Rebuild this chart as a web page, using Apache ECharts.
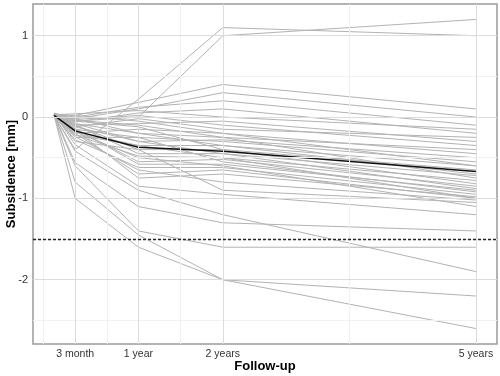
<!DOCTYPE html>
<html>
<head>
<meta charset="utf-8">
<script src="https://cdn.jsdelivr.net/npm/echarts@6/dist/echarts.min.js"></script>
<style>
  html, body { margin: 0; padding: 0; background: #fff; }
  #chart { width: 500px; height: 376px; }
</style>
</head>
<body>
<div id="chart"></div>
<script>
// follow-up time points in months
const months = [0, 3, 12, 24, 60];
const tickMonths = [3, 12, 24, 60];
const tickLabels = ['3 month', '1 year', '2 years', '5 years'];
const yTicks = [-2, -1, 0, 1];
const yMinor = [-2.5, -1.5, -0.5, 0.5];
const xMinor = [-1.5, 7.5, 18, 42];
const threshold = -1.5;

// mean subsidence (black line)
const meanSubsidence = [0.02, -0.17, -0.37, -0.42, -0.67];

// one row per implant: start, 3 month, 1 year, 2 years, 5 years
const implants = [
  [0.02, -0.40, 0.22, 1.10, 1.00],
  [0.03, -0.05, 0.00, 1.00, 1.20],
  [0.03, 0.02, 0.18, 0.40, 0.10],
  [0.02, -0.02, 0.10, 0.30, 0.00],
  [0.04, 0.00, 0.12, 0.20, -0.10],
  [0.01, -0.06, 0.05, 0.10, -0.20],
  [0.03, 0.04, 0.08, 0.00, -0.15],
  [0.02, -0.10, -0.08, -0.05, -0.30],
  [0.05, -0.03, 0.02, -0.10, -0.35],
  [0.03, -0.12, -0.02, -0.15, -0.25],
  [0.02, -0.20, -0.15, -0.20, -0.45],
  [0.04, -0.02, -0.20, -0.25, -0.40],
  [0.01, -0.25, -0.25, -0.30, -0.55],
  [0.03, -0.08, -0.30, -0.28, -0.50],
  [0.02, -0.18, -0.35, -0.35, -0.60],
  [0.03, -0.30, -0.40, -0.40, -0.65],
  [0.04, -0.10, -0.45, -0.45, -0.72],
  [0.02, -0.22, -0.48, -0.50, -0.78],
  [0.01, -0.15, -0.55, -0.52, -0.85],
  [0.03, -0.14, -0.58, -0.58, -0.90],
  [0.02, -0.28, -0.62, -0.62, -0.95],
  [0.03, -0.20, -0.70, -0.65, -1.00],
  [0.02, -0.16, -0.75, -0.70, -0.98],
  [0.04, -0.24, -0.65, -0.80, -1.02],
  [0.02, -0.12, -0.30, -0.45, -0.88],
  [0.03, -0.05, -0.12, -0.40, -0.82],
  [0.02, -0.08, -0.20, -0.35, -0.70],
  [0.03, -0.15, -0.25, -0.55, -0.92],
  [0.01, 0.02, -0.05, -0.20, -0.60],
  [0.04, -0.22, -0.35, -0.50, -1.00],
  [0.03, -0.04, -0.10, -0.25, -0.75],
  [0.02, -0.18, -0.50, -0.60, -1.10],
  [0.03, -0.10, -0.40, -0.90, -1.05],
  [0.02, -1.00, -1.60, -2.00, -2.60],
  [0.03, -0.80, -1.45, -2.00, -2.20],
  [0.02, -0.60, -1.40, -1.60, -1.60],
  [0.03, -0.56, -1.10, -1.30, -1.40],
  [0.02, -0.42, -0.90, -1.20, -1.90],
  [0.04, -0.34, -0.85, -0.95, -1.20]
];

const toPoints = vals => vals.map((v, i) => [months[i], v]);

const chart = echarts.init(document.getElementById('chart'));

const gridSeries = {
  type: 'line',
  data: [],
  silent: true,
  z: 1,
  markLine: {
    silent: true,
    symbol: 'none',
    animation: false,
    label: { show: false },
    data: [
      ...xMinor.map(v => ({ xAxis: v, lineStyle: { color: '#f1f1f1', width: 1, type: 'solid' } })),
      ...yMinor.map(v => ({ yAxis: v, lineStyle: { color: '#f1f1f1', width: 1, type: 'solid' } })),
      ...tickMonths.map(v => ({ xAxis: v, lineStyle: { color: '#dcdcdc', width: 1, type: 'solid' } })),
      ...yTicks.map(v => ({ yAxis: v, lineStyle: { color: '#dcdcdc', width: 1, type: 'solid' } }))
    ]
  }
};

const implantSeries = implants.map((row, i) => ({
  name: 'implant ' + (i + 1),
  type: 'line',
  data: toPoints(row),
  symbol: 'none',
  silent: true,
  z: 2,
  lineStyle: { color: '#b3b3b3', width: 1 }
}));

const option = {
  animation: false,
  grid: {
    left: 33, right: 3, top: 4, bottom: 32,
    outerBoundsMode: 'none',
    show: true,
    borderColor: '#9a9a9a',
    borderWidth: 1.5,
    backgroundColor: '#fff'
  },
  xAxis: {
    type: 'value',
    min: -3,
    max: 63,
    name: 'Follow-up',
    nameLocation: 'middle',
    nameGap: 16,
    nameMoveOverlap: false,
    nameTextStyle: { fontFamily: 'Liberation Sans', fontWeight: 'bold', fontSize: 13, color: '#000' },
    axisLine: { show: false },
    splitLine: { show: false },
    axisTick: { show: true, customValues: tickMonths, length: 3, lineStyle: { color: '#333' } },
    axisLabel: {
      customValues: tickMonths,
      margin: 5,
      fontFamily: 'Liberation Sans',
      fontSize: 10.5,
      color: '#333',
      formatter: v => tickLabels[tickMonths.indexOf(v)]
    }
  },
  yAxis: {
    type: 'value',
    min: -2.79,
    max: 1.39,
    name: 'Subsidence [mm]',
    nameLocation: 'middle',
    nameGap: 15,
    nameMoveOverlap: false,
    nameTextStyle: { fontFamily: 'Liberation Sans', fontWeight: 'bold', fontSize: 13, color: '#000' },
    axisLine: { show: false },
    splitLine: { show: false },
    axisTick: { show: true, customValues: yTicks, length: 3, lineStyle: { color: '#333' } },
    axisLabel: {
      customValues: yTicks,
      margin: 5,
      fontFamily: 'Liberation Sans',
      fontSize: 11,
      color: '#333'
    }
  },
  series: [
    gridSeries,
    ...implantSeries,
    {
      name: 'mean',
      type: 'line',
      data: toPoints(meanSubsidence),
      symbol: 'none',
      silent: true,
      z: 4,
      lineStyle: { color: '#111', width: 1.5 }
    },
    {
      name: 'threshold',
      type: 'line',
      data: [],
      z: 5,
      markLine: {
        silent: true,
        symbol: 'none',
        animation: false,
        label: { show: false },
        lineStyle: { color: '#222', width: 1.4, type: [3, 2] },
        data: [{ yAxis: threshold }]
      }
    }
  ]
};

chart.setOption(option);
</script>
</body>
</html>
